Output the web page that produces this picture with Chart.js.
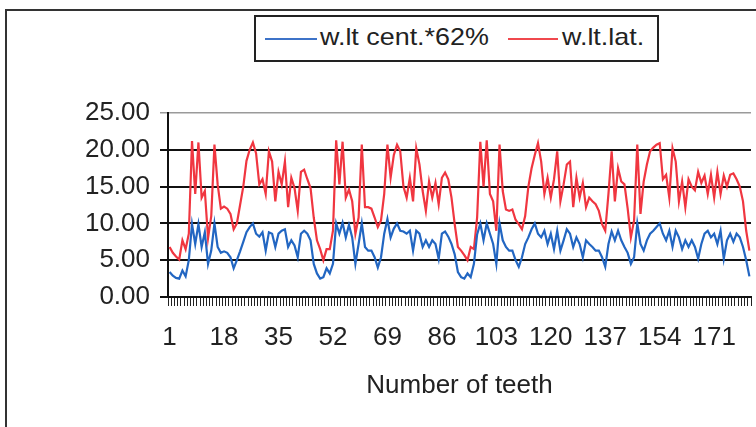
<!DOCTYPE html>
<html>
<head>
<meta charset="utf-8">
<script src="https://cdn.jsdelivr.net/npm/chart.js@4.4.0/dist/chart.umd.min.js"></script>
<style>
  html, body { margin: 0; padding: 0; background: #fff; }
  #wrap { position: relative; width: 756px; height: 427px; overflow: hidden; }
  #frame { position: absolute; left: 5px; top: 9px; width: 800px; height: 500px; border: 2px solid #333; }
  #legend { position: absolute; left: 254px; top: 15px; width: 405px; height: 47px; border: 2px solid #222;
            box-sizing: border-box; background: #fff; }
  #legend .l { position: absolute; top: 21px; height: 2px; }
  #legend .t { position: absolute; top: 6px; font-family: "Liberation Sans", Arial, sans-serif; font-size: 24px;
               color: #222; transform: scaleX(1.12); transform-origin: left center; white-space: nowrap; }
  canvas { position: absolute; left: 0; top: 0; }
</style>
</head>
<body>
<div id="wrap">
  <div id="frame"></div>
  <canvas id="myChart" width="756" height="427"></canvas>
  <div id="legend">
    <span class="l" style="left:9px;width:52px;background:#3d73c8"></span><span class="t" style="left:64px">w.lt cent.*62%</span>
    <span class="l" style="left:252px;width:50px;background:#f0484e"></span><span class="t" style="left:306px">w.lt.lat.</span>
  </div>
</div>
<script>
// numero de dentes (categorias 1..182)
const teeth = Array.from({ length: 182 }, (_, i) => String(i + 1));
const shownTicks = ['1', '18', '35', '52', '69', '86', '103', '120', '137', '154', '171'];
const yTicks = [0, 5, 10, 15, 20, 25];

// w.lt cent.*62%
const wltCent = [
  3.4, 2.9, 2.6, 2.5, 3.6, 2.8, 5.0, 9.9, 7.2, 9.9,
  6.8, 8.8, 4.5, 6.3, 10.0, 6.8, 6.0, 6.2, 6.0, 5.4,
  3.9, 5.0, 6.2, 7.5, 8.8, 9.5, 10.0, 8.6, 8.2, 8.8,
  6.3, 8.8, 8.6, 6.8, 8.6, 9.0, 9.2, 6.8, 7.7, 7.0,
  5.4, 8.6, 9.0, 8.6, 7.7, 4.5, 3.2, 2.5, 2.7, 3.9,
  3.2, 4.5, 10.0, 8.6, 10.1, 8.1, 9.8, 8.1, 4.5, 7.2,
  10.0, 6.8, 6.3, 6.3, 5.4, 4.0, 5.4, 8.6, 10.6, 8.1,
  9.3, 10.0, 9.0, 8.9, 8.6, 9.0, 6.3, 9.0, 8.6, 6.8,
  7.7, 6.8, 7.7, 7.2, 5.2, 8.6, 8.9, 8.2, 7.2, 5.8,
  3.4, 2.7, 2.5, 3.2, 2.7, 4.5, 8.5, 10.0, 7.7, 10.0,
  8.6, 7.2, 4.5, 10.0, 7.7, 6.8, 6.3, 6.3, 5.0, 4.1,
  5.4, 7.2, 8.1, 9.2, 10.0, 8.6, 8.1, 9.0, 7.2, 8.6,
  6.5, 9.0, 6.3, 7.7, 9.2, 8.6, 6.8, 8.1, 7.2, 5.4,
  7.7, 7.2, 6.8, 6.3, 6.3, 5.4, 4.1, 7.2, 8.9, 7.7,
  9.0, 7.7, 6.8, 6.0, 4.5, 5.4, 10.0, 7.2, 6.3, 7.7,
  8.6, 9.0, 9.5, 10.0, 8.6, 7.7, 9.0, 6.8, 9.0, 8.1,
  6.5, 7.7, 6.8, 7.7, 6.8, 5.2, 7.2, 8.6, 9.0, 8.1,
  8.6, 7.2, 9.0, 5.2, 7.7, 8.6, 7.5, 8.6, 8.1, 6.8,
  5.0, 2.8
];

// w.lt.lat.
const wltLat = [
  6.8, 6.0, 5.5, 5.1, 7.7, 6.5, 8.6, 21.2, 14.0, 21.0,
  13.5, 14.4, 8.0, 11.0, 20.7, 15.3, 12.0, 12.3, 12.0, 11.3,
  9.2, 10.0, 12.5, 15.0, 18.5, 20.0, 21.0, 19.5, 15.3, 16.0,
  14.0, 19.8, 18.4, 13.0, 17.0, 15.3, 18.4, 12.2, 16.2, 14.8,
  11.7, 17.0, 17.3, 16.0, 14.8, 10.8, 7.7, 6.5, 5.0, 6.5,
  6.5, 9.0, 21.3, 15.3, 21.1, 13.5, 14.6, 13.0, 8.6, 10.8,
  20.7, 12.2, 12.2, 12.0, 10.8, 9.5, 10.4, 14.0, 20.7, 16.2,
  19.3, 20.7, 19.8, 15.0, 13.5, 16.2, 13.0, 20.2, 18.0, 14.4,
  11.7, 15.7, 13.5, 15.5, 12.6, 16.2, 16.9, 16.0, 13.5, 9.9,
  6.8, 6.3, 5.7, 5.0, 6.8, 6.5, 10.8, 21.1, 15.0, 21.3,
  14.0, 13.0, 9.0, 20.7, 14.4, 11.9, 11.7, 11.9, 10.5, 9.9,
  9.2, 11.0, 15.0, 17.5, 19.3, 20.9, 18.4, 14.0, 16.2, 13.5,
  16.0, 19.8, 13.0, 15.3, 18.0, 18.4, 12.2, 16.2, 13.5, 15.5,
  12.2, 13.5, 13.0, 12.6, 11.7, 9.9, 9.0, 14.0, 19.8, 13.0,
  17.5, 15.7, 15.3, 12.0, 8.1, 10.4, 20.7, 11.3, 15.7, 18.0,
  19.8, 20.3, 20.7, 20.9, 16.0, 16.6, 13.5, 20.2, 18.4, 13.0,
  15.7, 12.2, 16.0, 15.0, 14.5, 17.0, 15.5, 16.5, 14.0, 16.6,
  13.5, 17.0, 14.0, 16.5, 15.0, 16.6, 16.8, 16.0, 15.0, 13.0,
  9.0, 6.3
];

const fontFam = '"Liberation Sans", Arial, sans-serif';

const ctx = document.getElementById('myChart').getContext('2d');
const myChart = new Chart(ctx, {
  type: 'line',
  data: {
    labels: teeth,
    datasets: [{
      label: 'w.lt cent.*62%',
      data: wltCent,
      borderColor: '#2266c2',
      borderWidth: 2.2,
      pointRadius: 0,
      tension: 0
    }, {
      label: 'w.lt.lat.',
      data: wltLat,
      borderColor: '#f03640',
      borderWidth: 2.2,
      pointRadius: 0,
      tension: 0
    }]
  },
  options: {
    responsive: false,
    animation: false,
    layout: { padding: { left: 0, right: 5, top: 113, bottom: 18 } },
    plugins: {
      legend: { display: false },
      tooltip: { enabled: false }
    },
    scales: {
      x: {
        type: 'category',
        offset: true,
        border: { color: '#111', width: 2 },
        grid: { display: true, drawOnChartArea: false, drawTicks: true, tickLength: 9, color: '#222', lineWidth: 1, offset: true },
        ticks: {
          autoSkip: false,
          maxRotation: 0,
          padding: 16,
          color: '#222',
          font: { family: fontFam, size: 26 },
          callback: function (val, idx) {
            const lab = teeth[idx];
            return shownTicks.includes(lab) ? lab : '';
          }
        },
        title: {
          display: true,
          text: 'Number of teeth',
          color: '#222',
          font: { family: fontFam, size: 26 },
          padding: { top: 8, bottom: 8 }
        },
        afterFit: function (scale) {
          scale.height = 112;
          // sem folga lateral: a escala ocupa toda a largura da area
          scale.paddingLeft = 0;
          scale.paddingRight = 0;
        }
      },
      y: {
        min: 0,
        max: 25,
        border: { color: '#111', width: 2 },
        grid: {
          drawTicks: true,
          tickLength: 8,
          color: function (c) { return c.tick && c.tick.value === 25 ? '#9a9a9a' : '#111'; },
          lineWidth: function (c) { return c.tick && c.tick.value === 25 ? 1.5 : 2; }
        },
        afterBuildTicks: function (scale) { scale.ticks = yTicks.map(v => ({ value: v })); },
        ticks: {
          padding: 10,
          color: '#222',
          font: { family: fontFam, size: 26 },
          callback: function (v) { return Number(v).toFixed(2); }
        },
        afterFit: function (scale) { scale.width = 168; }
      }
    }
  }
});
</script>
</body>
</html>
